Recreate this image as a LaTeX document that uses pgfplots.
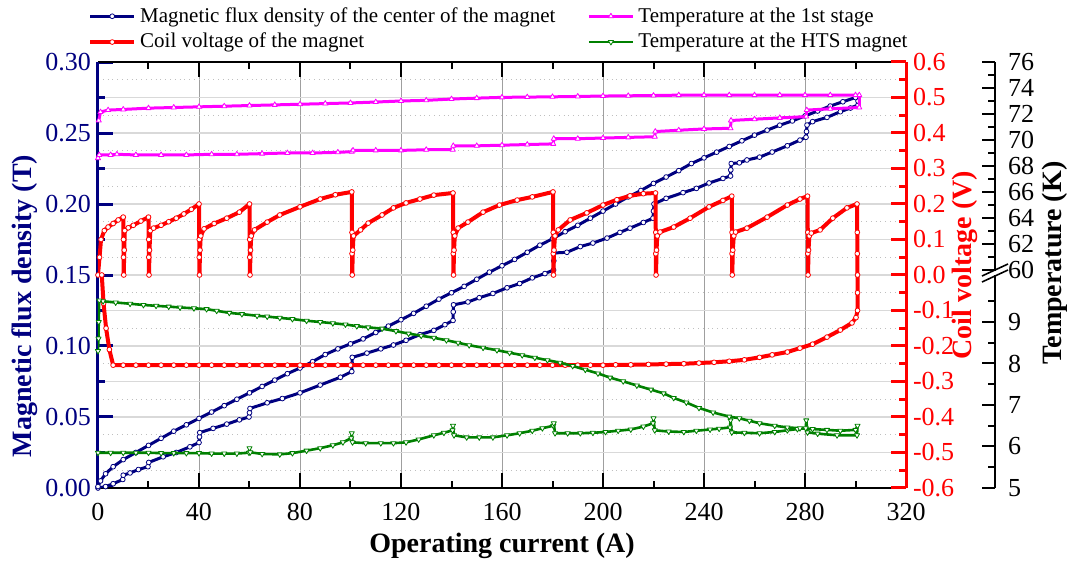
\documentclass[border=0pt]{standalone}
\usepackage{fontspec}
\setmainfont{Liberation Serif}
\usepackage{pgfplots}
\pgfplotsset{compat=1.18}
\definecolor{fluxblue}{RGB}{0,0,128}
\definecolor{stagemag}{RGB}{255,0,255}
\definecolor{htsgreen}{RGB}{0,128,0}

\pgfplotsset{
  /pgf/number format/assume math mode=true,
  panel/.style={width=404pt, height=213pt, scale only axis, xmin=0, xmax=320,
    major tick length=7.5pt, minor tick length=3.5pt, tick align=inside,
    tick label style={font=\fontsize{13}{15}\selectfont}},
  fluxline/.style={fluxblue, line width=1.5pt, line join=round, mark=*, mark size=1.2pt,
    mark options={fill=white, draw=fluxblue, line width=0.4pt, solid}},
  voltline/.style={red, line width=2pt, line join=round, mark=*, mark size=1.2pt,
    mark options={fill=white, draw=red, line width=0.4pt, solid}},
  stageline/.style={stagemag, line width=1.5pt, line join=round, mark=triangle*, mark size=1.5pt,
    mark options={fill=white, draw=stagemag, line width=0.4pt, solid}},
  htsline/.style={htsgreen, line width=1.3pt, line join=round, mark=triangle*, mark size=1.5pt,
    mark options={fill=white, draw=htsgreen, line width=0.4pt, solid, rotate=180}},
}

\begin{document}
\begin{tikzpicture}
\path[use as bounding box] (-49pt,-37pt) rectangle (489.5pt,244pt);

% grid only
\begin{axis}[panel, ymin=-0.6, ymax=0.6,
  xtick={0,40,...,320}, ytick={-0.6,-0.5,-0.4,-0.3,-0.2,-0.1,0,0.1,0.2,0.3,0.4,0.5,0.6},
  minor y tick num=1, xticklabels={}, yticklabels={},
  xmajorgrids, ymajorgrids, yminorgrids,
  major x grid style={gray!75, line width=0.5pt},
  major y grid style={gray!30, line width=0.9pt},
  minor y grid style={gray!50, dotted, line width=0.7pt},
  axis line style={draw=none}, tick style={draw=none}]
\end{axis}

% magnetic flux density (left axis, bottom and top)
\begin{axis}[panel, ymin=0, ymax=0.30,
  axis x line*=box, axis y line*=left, xtick pos=both, ytick pos=left,
  xtick={0,40,...,320}, minor x tick num=1,
  ytick={0,0.05,0.1,0.15,0.2,0.25,0.3}, minor y tick num=1,
  x axis line style={black, line width=1pt},
  y axis line style={fluxblue, line width=1.5pt},
  xtick style={black, line width=1pt},
  ytick style={fluxblue, line width=1.5pt},
  xticklabel style={yshift=-4pt},
  yticklabel style={fluxblue, /pgf/number format/.cd, fixed, fixed zerofill, precision=2},
  xlabel={Operating current (A)},
  ylabel={Magnetic flux density (T)},
  every axis x label/.style={at={(axis description cs:0.5,-0.136)}, anchor=center,
    font=\fontsize{14}{16}\selectfont\bfseries},
  every axis y label/.style={at={(axis description cs:-0.0903,0.427)}, anchor=center, rotate=90,
    fluxblue, font=\fontsize{14}{16}\selectfont\bfseries},
  legend columns=2, legend cell align=left,
  legend image code/.code={\draw[mark repeat=2,mark phase=2,#1] plot coordinates {(0pt,0pt) (11pt,0pt) (22pt,0pt)};},
  legend style={at={(axis description cs:-0.02,1.148)}, anchor=north west, draw=none, fill=none,
    font=\fontsize{10.5}{12.5}\selectfont, /tikz/every even column/.append style={column sep=14pt}}]
\addlegendimage{fluxline}
\addlegendentry{Magnetic flux density of the center of the magnet}
\addlegendimage{stageline}
\addlegendentry{Temperature at the 1st stage}
\addlegendimage{voltline}
\addlegendentry{Coil voltage of the magnet}
\addlegendimage{htsline}
\addlegendentry{Temperature at the HTS magnet}
\addplot[fluxline, forget plot] coordinates {
(0,0) (3,0.001) (6,0.003) (9.8,0.006) (10,0.009) (12.7,0.0106) (16,0.013) (19.8,0.015) (20.1,0.018)
(25.8,0.022) (31,0.025) (36.4,0.029) (40,0.032) (40.2,0.036) (40.3,0.039) (45.6,0.042) (51,0.045)
(56,0.048) (59.8,0.05) (60,0.053) (60.2,0.056) (67,0.06) (73,0.063) (80,0.067) (88,0.0725) (96,0.078)
(100.5,0.082) (100.6,0.087) (100.7,0.092) (106.5,0.095) (112,0.098) (117,0.1007) (122,0.104)
(127.5,0.108) (133,0.111) (137.4,0.115) (140.6,0.118) (140.7,0.124) (140.8,0.129) (146.5,0.131)
(151,0.134) (156.4,0.137) (162,0.141) (167,0.144) (172,0.148) (177,0.151) (180.4,0.1535) (180.5,0.16)
(180.6,0.1655) (185.7,0.166) (191,0.17) (196,0.1725) (201.6,0.176) (206.7,0.18) (210.7,0.183)
(216,0.187) (219.8,0.19) (220,0.195) (220.2,0.2) (225,0.204) (231.7,0.208) (237,0.211) (242,0.2148)
(247.5,0.218) (250.5,0.2197) (250.6,0.224) (250.8,0.2285) (254,0.229) (257,0.231) (262,0.233)
(267,0.2366) (273,0.241) (278,0.245) (280.4,0.247) (280.6,0.251) (280.8,0.2556) (283,0.258)
(288.7,0.261) (294,0.265) (298,0.2676) (301,0.2697) (301,0.2725)
(300,0.275) (295,0.272) (290,0.269) (285,0.2655) (280,0.262) (275,0.2585) (270,0.2555) (265,0.252)
(260,0.2485) (255,0.2445) (250,0.2405) (245,0.2365) (240,0.2325) (235,0.2285) (230,0.2235)
(225,0.219) (220,0.2145) (215,0.2095) (210,0.205) (205,0.2) (200,0.195) (195,0.19) (190,0.185)
(185,0.1805) (180,0.1755) (175,0.171) (170,0.166) (165,0.161) (160,0.1565) (155,0.152) (150,0.147)
(145,0.142) (140,0.1375) (135,0.133) (130,0.128) (125,0.123) (120,0.1185) (115,0.114) (110,0.1095)
(105,0.105) (100,0.1015) (95,0.098) (90,0.094) (85,0.089) (80,0.0845) (75,0.0805) (70,0.076)
(65,0.0715) (60,0.067) (55,0.0625) (50,0.058) (45,0.0535) (40,0.049) (35,0.0445) (30,0.040)
(25,0.035) (20,0.030) (15,0.025) (10,0.020) (6,0.015) (3,0.010) (1,0.005) (0,0.001)
};
\end{axis}

% coil voltage (right red axis)
\begin{axis}[panel, ymin=-0.6, ymax=0.6,
  axis x line=none, axis y line*=right,
  ytick={-0.6,-0.5,-0.4,-0.3,-0.2,-0.1,0,0.1,0.2,0.3,0.4,0.5,0.6}, minor y tick num=1,
  y axis line style={red, line width=1.5pt},
  ytick style={red, line width=1.5pt},
  yticklabel style={red, /pgf/number format/.cd, fixed, fixed zerofill, precision=1},
  ylabel={Coil voltage (V)},
  every axis y label/.style={at={(axis description cs:1.073,0.523)}, anchor=center, rotate=90,
    red, font=\fontsize{14}{16}\selectfont\bfseries}]
\addplot[voltline] coordinates {
(0,0) (0.6,0.05) (1.2,0.1) (2.5,0.125) (4,0.135) (6,0.145) (8,0.155) (10,0.163)
(10.1,0.1) (10.1,0.05) (10.2,0) (10.4,0.07) (10.6,0.125) (12,0.133) (14,0.14) (17,0.152) (20,0.163)
(20.1,0.1) (20.1,0.05) (20.2,0) (20.4,0.07) (20.7,0.125) (22,0.132) (25,0.14) (28,0.15) (31,0.16)
(34,0.172) (37,0.185) (40,0.2)
(40.1,0.1) (40.1,0.05) (40.2,0) (40.4,0.07) (40.7,0.11) (42,0.13) (46,0.145) (51,0.16) (56,0.177) (60,0.2)
(60.1,0.1) (60.1,0.05) (60.2,0) (60.4,0.07) (60.7,0.11) (62,0.127) (67,0.149) (72,0.169) (80,0.192)
(88,0.214) (94,0.226) (100.5,0.234)
(100.6,0.12) (100.6,0.06) (100.7,0) (100.9,0.07) (101.2,0.11) (104,0.127) (107,0.146) (112.5,0.169)
(117,0.189) (122,0.203) (127.5,0.214) (133,0.225) (140.6,0.231)
(140.7,0.12) (140.7,0.06) (140.8,0) (141,0.07) (141.3,0.11) (142.6,0.132) (146.5,0.149) (152.5,0.177)
(159,0.197) (166,0.211) (172,0.22) (180.2,0.234)
(180.3,0.12) (180.3,0.06) (180.4,0) (180.6,0.07) (181,0.11) (182.3,0.127) (187,0.155) (193.6,0.175)
(200,0.197) (205.5,0.212) (210.7,0.223) (216,0.229) (220.8,0.231)
(220.9,0.12) (220.9,0.06) (221,0) (221.2,0.07) (221.5,0.11) (222.6,0.121) (228,0.135) (234.5,0.16)
(242,0.192) (247.5,0.21) (251,0.222)
(251.1,0.12) (251.1,0.06) (251.2,0) (251.4,0.07) (251.8,0.11) (252.5,0.121) (257,0.132) (265,0.163)
(273,0.197) (278,0.214) (281,0.222)
(281.1,0.12) (281.1,0.06) (281.2,0) (281.4,0.07) (281.7,0.11) (282.5,0.118) (286,0.127) (291,0.16)
(296.6,0.189) (300.6,0.2)
(300.7,0.12) (300.7,0.06) (300.8,0) (300.8,-0.05) (300.8,-0.1) (300.2,-0.12) (298.6,-0.135)
(294,-0.155) (288.7,-0.175) (283,-0.195) (278,-0.206) (273,-0.217) (267,-0.225) (262,-0.232)
(256,-0.239) (250,-0.243) (244,-0.246) (238,-0.248) (232,-0.25) (225,-0.251) (218,-0.252)
(211,-0.253) (205,-0.253) (200,-0.254) (195,-0.254) (190,-0.254) (185,-0.254) (180,-0.254)
(175,-0.254) (170,-0.254) (165,-0.254) (160,-0.254) (155,-0.254) (150,-0.254) (145,-0.254)
(140,-0.254) (135,-0.254) (130,-0.254) (125,-0.254) (120,-0.254) (115,-0.254) (110,-0.254)
(105,-0.254) (100,-0.254) (95,-0.254) (90,-0.254) (85,-0.254) (80,-0.254) (75,-0.254) (70,-0.254)
(65,-0.254) (60,-0.254) (55,-0.254) (50,-0.254) (45,-0.254) (40,-0.254) (35,-0.254) (30,-0.254)
(25,-0.254) (20,-0.254) (15,-0.254) (10,-0.254) (6,-0.254) (4.5,-0.21) (3.2,-0.15) (2.2,-0.08)
(1.5,0)
};
\end{axis}

% temperature at the 1st stage (upper temperature scale)
\begin{axis}[panel, ymin=43.23, ymax=76, hide axis]
\addplot[stageline] coordinates {
(0,68.6) (0.5,68.85) (5,68.85) (7.5,68.9) (15,68.85) (25,68.85) (35,68.85) (45,68.9) (55,68.9)
(65,68.95) (75,69.0) (85,69.0) (95,69.05) (100.5,69.1) (101,69.2) (110,69.2) (120,69.2) (130,69.25)
(140.5,69.25) (140.7,69.55) (150,69.55) (160,69.6) (170,69.65) (180.3,69.7) (180.5,70.1) (190,70.1)
(200,70.15) (210,70.2) (220.5,70.25) (220.7,70.65) (230,70.75) (240,70.85) (250.5,70.9) (250.7,71.5)
(260,71.6) (270,71.7) (280.5,71.8) (280.7,72.3) (290,72.4) (301.5,72.5) (301.5,73.45)
(300,73.45) (290,73.45) (280,73.45) (270,73.45) (260,73.45) (250,73.45) (240,73.45) (230,73.45)
(220,73.42) (210,73.4) (200,73.38) (190,73.35) (180,73.32) (170,73.3) (160,73.28) (150,73.22)
(140,73.15) (130,73.05) (120,73.0) (110,72.92) (100,72.85) (90,72.8) (80,72.75) (70,72.7) (60,72.65)
(50,72.6) (40,72.55) (30,72.5) (20,72.45) (10,72.35) (4,72.3) (1,72.15) (0.3,71.5)
};
\end{axis}

% temperature at the HTS magnet (lower temperature scale)
\begin{axis}[panel, ymin=5, ymax=15.265, hide axis]
\addplot[htsline] coordinates {
(0,5.85) (5,5.85) (10,5.85) (15,5.85) (20,5.85) (25,5.84) (30,5.84) (35,5.84) (40,5.84) (45,5.83)
(50,5.83) (55,5.83) (59.8,5.85) (60,5.96) (60.3,5.86) (65,5.82) (72,5.81) (77,5.84) (82.6,5.9)
(88,5.96) (93,6.03) (97,6.1) (100.3,6.2) (100.5,6.32) (100.8,6.1) (106,6.08) (112,6.08) (117,6.08)
(122,6.1) (127,6.17) (133,6.27) (137,6.33) (140.4,6.39) (140.6,6.5) (141,6.27) (146,6.22) (151,6.22)
(156.4,6.22) (162,6.27) (167,6.32) (172,6.38) (176,6.44) (180.3,6.5) (180.5,6.56) (181,6.32)
(186,6.32) (191,6.32) (196,6.33) (201,6.35) (206,6.38) (211,6.41) (216,6.48) (219.8,6.56) (220,6.68)
(220.5,6.39) (226,6.36) (232,6.35) (237,6.38) (242.4,6.41) (246,6.43) (250.3,6.46) (250.5,6.63)
(251,6.34) (256,6.33) (262,6.32) (268,6.35) (273,6.39) (277,6.42) (280.3,6.44) (280.5,6.63)
(281,6.34) (285,6.31) (292.7,6.27) (300.6,6.27) (300.8,6.5)
(300,6.4) (294,6.38) (288.7,6.4) (283,6.42) (278,6.44) (273,6.46) (268,6.5) (262,6.56) (258,6.62)
(254,6.68) (250,6.72) (243.6,6.82) (238,6.93) (233,7.06) (228,7.17) (224,7.28) (219,7.37)
(213.4,7.47) (208,7.57) (202.8,7.66) (198,7.76) (193,7.85) (188,7.94) (183,8.02) (178,8.08)
(173,8.14) (168,8.2) (163,8.26) (158,8.32) (152.5,8.38) (147,8.44) (142.6,8.5) (138,8.56) (133,8.62)
(128,8.67) (123,8.72) (118,8.78) (112.5,8.84) (107,8.87) (102.5,8.9) (98,8.94) (93,8.97) (88,9.0)
(82.6,9.03) (77,9.07) (72,9.1) (67,9.13) (63,9.15) (57,9.19) (52,9.22) (47,9.27) (43,9.31) (38,9.33)
(32.5,9.35) (28,9.37) (23,9.39) (18,9.41) (12.7,9.44) (7,9.47) (2,9.5) (0.5,9.52) (0.3,9.0)
(0.2,8.6) (0,8.3)
};
\end{axis}

% broken temperature axis, offset to the right
\begin{axis}[width=448.5pt, height=213pt, scale only axis, xmin=0, xmax=1, ymin=0, ymax=426,
  major tick length=6.5pt, minor tick length=3.5pt, tick align=inside,
  axis x line=none, axis y line*=right,
  ytick={0,41.5,83,124.5,166,218,244,270,296,322,348,374,400,426},
  yticklabels={5,6,7,8,9,60,62,64,66,68,70,72,74,76},
  minor ytick={20.75,62.25,103.75,145.25,186.75,231,257,283,309,335,361,387,413},
  y axis line style={black, line width=1pt},
  ytick style={black, line width=1pt},
  yticklabel style={font=\fontsize{13}{15}\selectfont, xshift=3pt},
  ylabel={Temperature (K)},
  every axis y label/.style={at={(axis description cs:1.067,0.528)}, anchor=center, rotate=90,
    black, font=\fontsize{14}{16}\selectfont\bfseries}]
\end{axis}
\fill[white] (446pt,106.3pt) rectangle (451pt,108.7pt);
\draw[line width=0.8pt] (442pt,103pt) -- (455pt,109pt);
\draw[line width=0.8pt] (442pt,106pt) -- (455pt,112pt);
\end{tikzpicture}
\end{document}
